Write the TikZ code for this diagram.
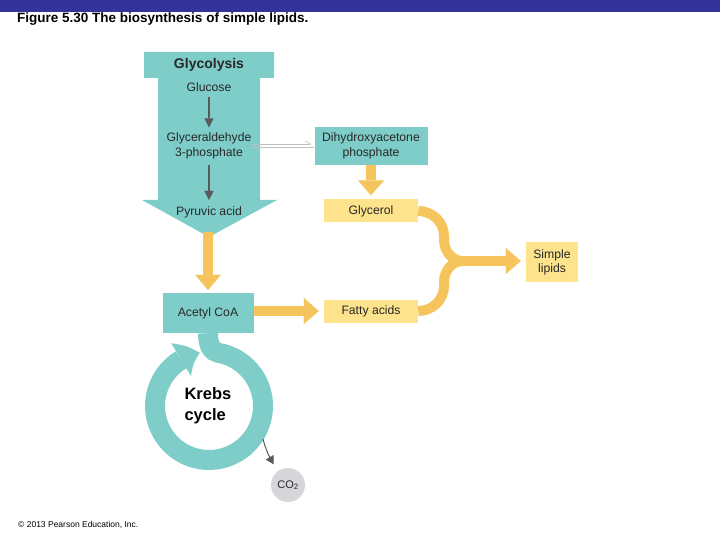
\documentclass[tikz,border=0pt]{standalone}
\usepackage{fontspec}
\setmainfont{Liberation Sans}
\usetikzlibrary{arrows.meta, bending, positioning, calc}
\definecolor{cTeal}{RGB}{126,205,201}
\definecolor{cPale}{RGB}{253,227,140}
\definecolor{cGold}{RGB}{246,196,92}
\definecolor{cBar}{RGB}{51,51,153}
\definecolor{cInk}{RGB}{40,40,40}
\definecolor{cCirc}{RGB}{214,214,218}
\tikzset{
	tealbox/.style ={rectangle, fill=cTeal, align=center, text=cInk, inner sep=0pt},
	palebox/.style ={rectangle, fill=cPale, align=center, text=cInk, inner sep=0pt},
	lbl/.style     ={align=center, text=cInk},
	fatarrow/.style={draw=cGold, line width=10pt, -{Triangle[width=26pt, length=15pt, line width=0.01pt]}},
	fatline/.style ={draw=cGold, line width=10pt},
	thinarrow/.style={draw=black!65, line width=1.8pt, -{Triangle[width=9pt, length=9pt, line width=0.01pt]}},
	smallarrow/.style={draw=black!65, line width=1pt, -{Triangle[width=9pt, length=8pt, line width=0.01pt]}},
	eqline/.style  ={draw=black!25, line width=0.6pt, -{Straight Barb[left, length=5pt, width=6pt]}},
	ringline/.style={draw=cTeal, line width=20pt},
}

\begin{document}
\begin{tikzpicture}[x=1pt, y=1pt, font=\fontsize{12.2pt}{15pt}\selectfont]
	\useasboundingbox (0,0) rectangle (720,-540);
	% header
	\fill[cBar] (0,0) rectangle (720,-12);
	\node[anchor=west, inner sep=0pt, font=\fontsize{13.5pt}{15pt}\selectfont\bfseries] (title) at (17,-19) {Figure 5.30 The biosynthesis of simple lipids.};
	\node[anchor=west, inner sep=0pt, font=\fontsize{8.5pt}{10pt}\selectfont] (copy) at (18,-525) {\textcopyright{} 2013 Pearson Education, Inc.};
	% glycolysis arrow
	\fill[cTeal] (144,-52) -- (274,-52) -- (274,-78) -- (260,-78) -- (260,-200) -- (277,-200) -- (209,-237)
		-- (142,-200) -- (158,-200) -- (158,-78) -- (144,-78) -- cycle;
	\coordinate (glytip) at (208,-232);
	\node[lbl, font=\fontsize{14pt}{15pt}\selectfont\bfseries] (glyco) at (209,-65) {Glycolysis};
	\node[lbl] (glucose) at (209,-87) {Glucose};
	\node[lbl] (gap) at (209,-146) {Glyceraldehyde\\ 3-phosphate};
	\node[lbl] (pyruvic) at (209,-212) {Pyruvic acid};
	\draw[thinarrow, shorten <=2pt, shorten >=2pt] (glucose) -- (gap);
	\draw[thinarrow, shorten <=2pt, shorten >=3pt] (gap) -- (pyruvic);
	% boxes
	\node[tealbox, minimum width=113pt, minimum height=38pt] (dhap) at (371,-146) {Dihydroxyacetone\\ phosphate};
	\node[palebox, minimum width=94pt, minimum height=23pt] (glycerol) at (371,-211) {Glycerol};
	\node[palebox, minimum width=94pt, minimum height=23pt] (fatty) at (371,-311) {Fatty acids};
	\node[palebox, minimum width=52pt, minimum height=40pt, font=\fontsize{12.2pt}{14pt}\selectfont] (lipids) at (552,-262) {Simple\\ lipids};
	\node[tealbox, minimum width=91pt, minimum height=40pt] (acetyl) at (208,-313) {Acetyl CoA};
	\node[circle, fill=cCirc, minimum size=34pt, inner sep=0pt, text=cInk, font=\fontsize{11pt}{13pt}\selectfont] (co2) at (288,-485) {CO\textsubscript{2}};
	% equilibrium
	\draw[eqline, shorten <=-4pt, shorten >=3pt] ([yshift=2pt]dhap.west -| gap.east) -- ([yshift=2pt]dhap.west);
	\draw[eqline, shorten >=-3pt] ([yshift=-1.5pt]dhap.west) -- ([yshift=-1.5pt]dhap.west -| gap.east);
	% gold arrows
	\draw[fatarrow, shorten >=4pt] (dhap.south) -- (glycerol.north);
	\draw[fatarrow, shorten >=3pt] (glytip) -- (glytip |- acetyl.north);
	\draw[fatarrow, shorten >=5pt] (acetyl.east |- fatty.west) -- (fatty.west);
	\coordinate (merge) at (463,-261);
	\draw[fatline] (glycerol.east) to[out=0, in=90] (444,-236) -- (444,-240) to[out=-90, in=180] (merge);
	\draw[fatline] (fatty.east) to[out=0, in=-90] (444,-286) -- (444,-282) to[out=90, in=180] (merge);
	\draw[fatarrow, shorten >=5pt] ([xshift=-3pt]merge) -- (merge -| lipids.west);
	% Krebs cycle
	\draw[ringline, -{Triangle[width=38pt, length=20pt, line width=0.01pt, bend]}] (acetyl.south)
		.. controls (208,-345) and (211.5,-351.6) .. (218.4,-352.8) arc[start angle=80, end angle=-260, radius=54];
	\node[anchor=west, align=left, font=\fontsize{16.5pt}{21pt}\selectfont\bfseries, text=black] (krebs) at (181,-406) {Krebs\\ cycle};
	\coordinate (ringexit) at (263,-439);
	\draw[smallarrow, shorten >=8pt] (ringexit) to[out=-75, in=125] (co2);
\end{tikzpicture}
\end{document}
